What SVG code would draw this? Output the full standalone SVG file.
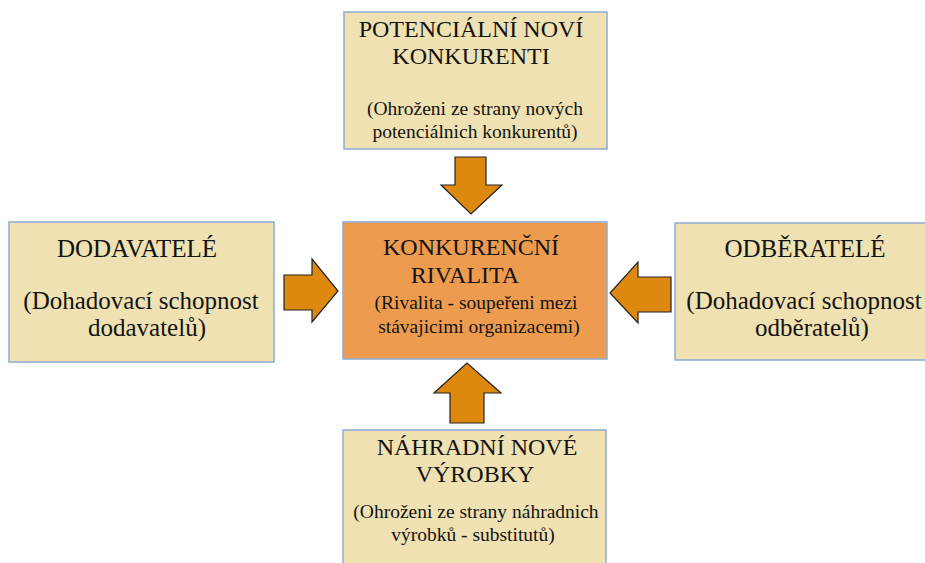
<svg xmlns="http://www.w3.org/2000/svg" width="925" height="563" viewBox="0 0 925 563">
<style>
.box{fill:#EFE1B1;stroke:#8EABD6;stroke-width:1.5}
.core{fill:#ED9C4F;stroke:#8EABD6;stroke-width:1.5}
.arr{fill:#DD880F;stroke:#222;stroke-width:1.2;stroke-linejoin:miter}
text{font-family:"Liberation Serif","Times New Roman",serif;fill:#141414;text-anchor:middle}
.big{font-size:24px}
.sm{font-size:19.5px}
.lg{font-size:25px}
</style>
<rect width="925" height="563" fill="#ffffff"/>
<g id="connectors">
<polygon class="arr" points="455,157 486,157 486,185 502,185 471,214 441,185 455,185"/>
<polygon class="arr" points="284,275 312,275 312,259 338,291 312,322 312,310 284,310"/>
<polygon class="arr" points="671,277 638,277 638,262 610,293 638,323 638,312 671,312"/>
<polygon class="arr" points="450,423 484,423 484,393 501,393 467,363 434,393 450,393"/>
</g>
<g id="top">
<rect class="box" x="344" y="12" width="263" height="137"/>
<text class="big" x="471" y="37">POTENCIÁLNÍ NOVÍ</text>
<text class="big" x="471" y="64">KONKURENTI</text>
<text class="sm" x="475" y="115">(Ohroženi ze strany nových</text>
<text class="sm" x="475" y="138">potenciálnich konkurentů)</text>
</g>
<g id="left">
<rect class="box" x="9" y="222" width="265" height="140"/>
<text class="lg" x="137" y="257">DODAVATELÉ</text>
<text class="lg" x="141" y="309">(Dohadovací schopnost</text>
<text class="lg" x="147" y="336">dodavatelů)</text>
</g>
<g id="center">
<rect class="core" x="343" y="222" width="264" height="137"/>
<text class="big" x="471" y="255">KONKURENČNÍ</text>
<text class="big" x="465" y="283">RIVALITA</text>
<text class="sm" x="476" y="309">(Rivalita - soupeřeni mezi</text>
<text class="sm" x="479" y="333">stávajicimi organizacemi)</text>
</g>
<g id="right">
<rect class="box" x="675" y="223" width="265" height="137"/>
<text class="lg" x="805" y="257">ODBĚRATELÉ</text>
<text class="lg" x="804" y="309">(Dohadovací schopnost</text>
<text class="lg" x="812" y="336">odběratelů)</text>
</g>
<g id="bottom">
<rect class="box" x="343" y="430" width="263" height="145"/>
<text class="big" x="477" y="455">NÁHRADNÍ NOVÉ</text>
<text class="big" x="475" y="482">VÝROBKY</text>
<text class="sm" x="476" y="518">(Ohroženi ze strany náhradnich</text>
<text class="sm" x="473" y="541">výrobků - substitutů)</text>
</g>
</svg>
